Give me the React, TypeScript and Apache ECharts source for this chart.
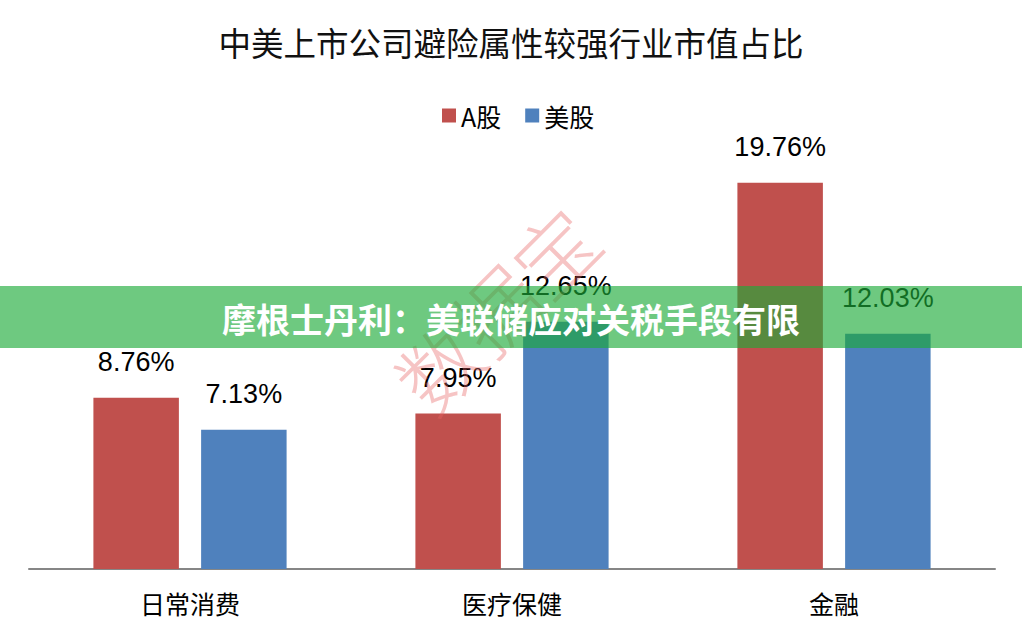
import React, { useEffect, useRef } from "react";
import * as echarts from "echarts";

const title = "中美上市公司避险属性较强行业市值占比";
const bannerText = "摩根士丹利：美联储应对关税手段有限";
const watermarkText = "数据宝";
const categories = ["日常消费", "医疗保健", "金融"];
const seriesNames = ["A股", "美股"];
const aShares = [8.76, 7.95, 19.76];
const usShares = [7.13, 12.65, 12.03];
const colors = ["#C0504D", "#4F81BD"];

const FONT = '"Liberation Sans", Arial, "Noto Sans CJK SC", sans-serif';
const CJK = '"Noto Sans CJK SC", "Liberation Sans", sans-serif';

export default function App() {
  const ref = useRef<HTMLDivElement>(null);
  useEffect(() => {
    if (!ref.current) return;
    const chart = echarts.init(ref.current, null, { renderer: "svg" });
    const label = {
      show: true,
      position: "top",
      distance: 22,
      fontSize: 27,
      color: "#000",
      fontFamily: FONT,
      formatter: (p: any) => p.value.toFixed(2) + "%",
    };
    chart.setOption({
      animation: false,
      backgroundColor: "#fff",
      title: {
        text: title,
        left: "center",
        top: 20,
        textStyle: { fontSize: 32.5, fontWeight: "normal", color: "#111", fontFamily: CJK },
      },
      legend: {
        data: seriesNames,
        left: 437,
        top: 98,
        itemWidth: 14,
        itemHeight: 14,
        itemGap: 24,
        icon: "rect",
        textStyle: { fontSize: 25, color: "#000", fontFamily: CJK },
      },
      grid: { left: 29, right: 27, top: 139, bottom: 64 },
      xAxis: {
        type: "category",
        data: categories,
        axisLine: { lineStyle: { color: "#868686", width: 2 } },
        axisTick: { show: false },
        axisLabel: { fontSize: 25, color: "#000", margin: 21, fontFamily: CJK },
      },
      yAxis: {
        type: "value",
        min: 0,
        max: 22,
        show: false,
        splitLine: { show: false },
      },
      series: [
        {
          name: seriesNames[0],
          type: "bar",
          data: aShares,
          itemStyle: { color: colors[0] },
          barGap: "26%",
          barCategoryGap: "40%",
          label,
        },
        {
          name: seriesNames[1],
          type: "bar",
          data: usShares,
          itemStyle: { color: colors[1] },
          label,
        },
      ],
      graphic: [
        {
          type: "text",
          z: 50,
          x: 495,
          y: 308,
          rotation: (45 * Math.PI) / 180,
          style: {
            text: watermarkText,
            fontSize: 82,
            fontWeight: 300,
            fontFamily: CJK,
            fill: "rgba(232,100,100,0.38)",
            align: "center",
            verticalAlign: "middle",
          },
        },
        {
          type: "rect",
          z: 60,
          shape: { x: 0, y: 286, width: 1022, height: 62 },
          style: { fill: "rgba(28,171,56,0.64)" },
        },
        {
          type: "text",
          z: 61,
          x: 511,
          y: 318,
          style: {
            text: bannerText,
            fontSize: 34,
            fontWeight: "bold",
            fontFamily: CJK,
            fill: "#fff",
            align: "center",
            verticalAlign: "middle",
          },
        },
      ],
    });
    return () => chart.dispose();
  }, []);
  return (
    <div
      ref={ref}
      style={{ position: "fixed", left: 0, top: 0, width: 1022, height: 633 }}
    />
  );
}
